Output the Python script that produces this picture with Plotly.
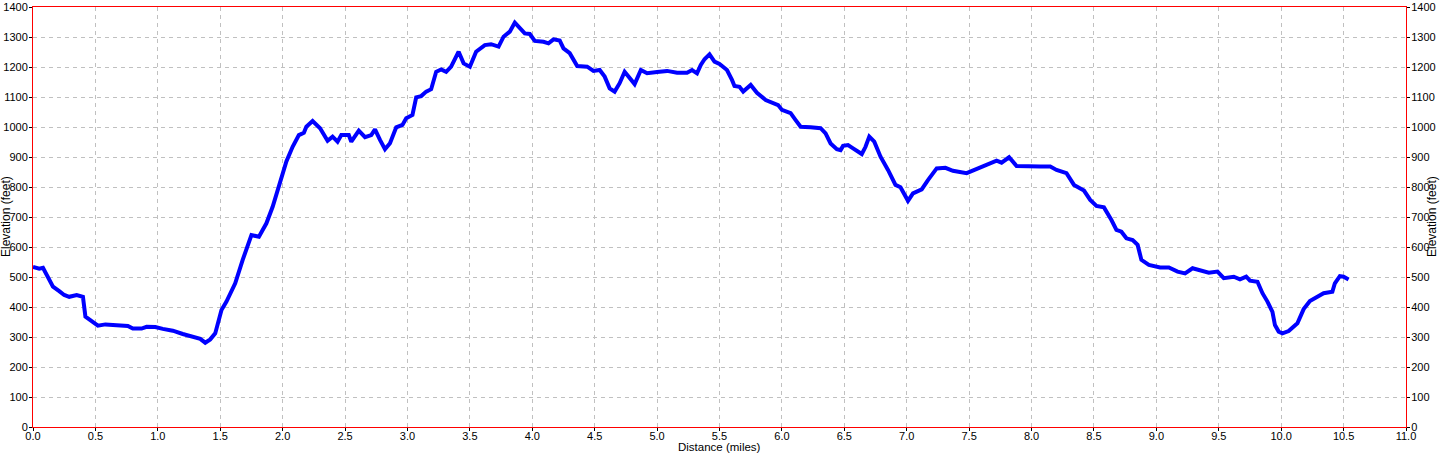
import plotly.graph_objects as go

# Distance along the track (miles) and elevation (feet)
dist_miles = [
    0.00, 0.05, 0.08, 0.12, 0.16, 0.21, 0.25, 0.29, 0.35, 0.40, 0.42, 0.47,
    0.52, 0.58, 0.64, 0.70, 0.76, 0.80, 0.87, 0.91, 0.98, 1.04, 1.12, 1.20,
    1.28, 1.34, 1.38, 1.42, 1.46, 1.51, 1.55, 1.62, 1.68, 1.75, 1.81, 1.87,
    1.92, 1.98, 2.03, 2.08, 2.13, 2.17, 2.19, 2.24, 2.30, 2.36, 2.40, 2.44,
    2.47, 2.53, 2.55, 2.61, 2.66, 2.71, 2.74, 2.78, 2.82, 2.86, 2.91, 2.96,
    2.99, 3.04, 3.07, 3.11, 3.15, 3.19, 3.23, 3.27, 3.31, 3.35, 3.41, 3.45,
    3.50, 3.55, 3.62, 3.67, 3.73, 3.77, 3.82, 3.86, 3.90, 3.94, 3.98, 4.02,
    4.09, 4.13, 4.17, 4.22, 4.25, 4.30, 4.36, 4.44, 4.49, 4.54, 4.58, 4.62,
    4.66, 4.70, 4.74, 4.78, 4.82, 4.87, 4.92, 5.00, 5.08, 5.16, 5.24, 5.28,
    5.32, 5.35, 5.38, 5.42, 5.46, 5.50, 5.56, 5.60, 5.62, 5.66, 5.69, 5.75,
    5.80, 5.87, 5.93, 5.97, 6.00, 6.07, 6.11, 6.15, 6.23, 6.31, 6.35, 6.39,
    6.44, 6.47, 6.49, 6.53, 6.57, 6.64, 6.67, 6.70, 6.74, 6.79, 6.85, 6.91,
    6.95, 7.01, 7.05, 7.12, 7.17, 7.24, 7.31, 7.37, 7.48, 7.56, 7.64, 7.72,
    7.76, 7.82, 7.88, 7.96, 8.07, 8.15, 8.20, 8.28, 8.34, 8.42, 8.47, 8.52,
    8.58, 8.64, 8.68, 8.72, 8.76, 8.81, 8.85, 8.88, 8.94, 9.03, 9.10, 9.17,
    9.23, 9.29, 9.35, 9.42, 9.49, 9.54, 9.62, 9.67, 9.72, 9.75, 9.81, 9.85,
    9.89, 9.93, 9.95, 9.98, 10.01, 10.06, 10.13, 10.18, 10.23, 10.29, 10.34,
    10.41, 10.43, 10.47, 10.50, 10.54,
]
elev_feet = [
    534, 528, 531, 501, 468, 453, 440, 434, 440, 434, 368, 353,
    338, 342, 341, 337, 337, 328, 328, 334, 333, 327, 321, 310,
    299, 294, 281, 292, 312, 390, 418, 479, 557, 640, 634, 679,
    734, 823, 885, 934, 973, 981, 1001, 1020, 996, 954, 968, 951,
    973, 973, 951, 988, 966, 973, 992, 957, 926, 946, 999, 1007,
    1029, 1040, 1099, 1103, 1118, 1126, 1184, 1192, 1184, 1201, 1251, 1212,
    1201, 1251, 1273, 1276, 1268, 1301, 1318, 1348, 1329, 1312, 1310, 1287,
    1284, 1279, 1292, 1288, 1262, 1246, 1203, 1201, 1187, 1190, 1168, 1129,
    1118, 1146, 1184, 1162, 1143, 1190, 1179, 1183, 1187, 1181, 1181, 1190,
    1179, 1207, 1226, 1242, 1218, 1210, 1190, 1157, 1137, 1134, 1118, 1140,
    1114, 1090, 1079, 1073, 1057, 1046, 1023, 1001, 999, 996, 979, 945,
    926, 923, 937, 940, 929, 910, 934, 968, 951, 901, 857, 807,
    799, 754, 779, 792, 823, 862, 864, 854, 846, 859, 873, 888,
    881, 899, 870, 868, 868, 868, 857, 846, 807, 788, 757, 737,
    732, 690, 657, 651, 629, 623, 607, 557, 540, 532, 532, 518,
    512, 529, 523, 514, 518, 496, 501, 492, 501, 488, 484, 446,
    418, 384, 340, 318, 312, 320, 346, 393, 420, 434, 446,
    451, 479, 503, 501, 492,
]

x_ticks = [i * 0.5 for i in range(23)]
y_ticks = list(range(0, 1500, 100))

font_main = dict(family="Liberation Sans, Arial, sans-serif", size=11, color="black")
font_title = dict(family="Liberation Sans, Arial, sans-serif", size=12, color="black")
font_xtitle = dict(family="Liberation Sans, Arial, sans-serif", size=11.5, color="black")
grid_dash = "4px,4px"

fig = go.Figure()

fig.add_trace(go.Scatter(
    x=dist_miles, y=elev_feet,
    mode="lines",
    line=dict(color="#0000ff", width=4),
    showlegend=False,
    hoverinfo="x+y",
))

# invisible copy so the right-hand axis gets drawn
fig.add_trace(go.Scatter(
    x=dist_miles, y=elev_feet, yaxis="y2",
    mode="lines", line=dict(width=0), opacity=0,
    showlegend=False, hoverinfo="skip",
))

fig.update_layout(
    width=1440, height=453,
    margin=dict(l=33, r=34, t=7, b=26),
    paper_bgcolor="white",
    plot_bgcolor="white",
    font=font_main,
    xaxis=dict(
        range=[0, 11],
        tickvals=x_ticks,
        tickformat=".1f",
        showgrid=True, gridcolor="#c0c0c0", gridwidth=1, griddash=grid_dash,
        showline=True, linecolor="red", linewidth=1, mirror=True,
        ticks="outside", ticklen=3, tickcolor="black",
        ticklabelstandoff=-4,
        zeroline=False, automargin=False,
    ),
    yaxis=dict(
        range=[0, 1400],
        tickvals=y_ticks,
        showgrid=True, gridcolor="#c0c0c0", gridwidth=1, griddash=grid_dash,
        showline=True, linecolor="red", linewidth=1, mirror=True,
        ticks="outside", ticklen=3, tickcolor="black",
        ticklabelstandoff=-1,
        zeroline=False, automargin=False,
    ),
    yaxis2=dict(
        range=[0, 1400],
        tickvals=y_ticks,
        overlaying="y", side="right",
        showgrid=False,
        showline=True, linecolor="red", linewidth=1,
        ticks="outside", ticklen=3, tickcolor="black",
        ticklabelstandoff=-1,
        zeroline=False, automargin=False,
    ),
    annotations=[
        dict(text="Elevation (feet)", textangle=-90, showarrow=False,
             xref="paper", yref="paper", x=0, y=0.5, xshift=-27,
             xanchor="center", yanchor="middle", font=font_title),
        dict(text="Elevation (feet)", textangle=-90, showarrow=False,
             xref="paper", yref="paper", x=1, y=0.5, xshift=26,
             xanchor="center", yanchor="middle", font=font_title),
        dict(text="Distance (miles)", showarrow=False,
             xref="paper", yref="paper", x=0.5, y=0, yshift=-20,
             xanchor="center", yanchor="middle", font=font_xtitle),
    ],
)

# drop the page's default body margin so the figure sits at the window's corner
fig.write_html("out.html", config={"displayModeBar": False},
               post_script="document.body.style.margin='0';")
